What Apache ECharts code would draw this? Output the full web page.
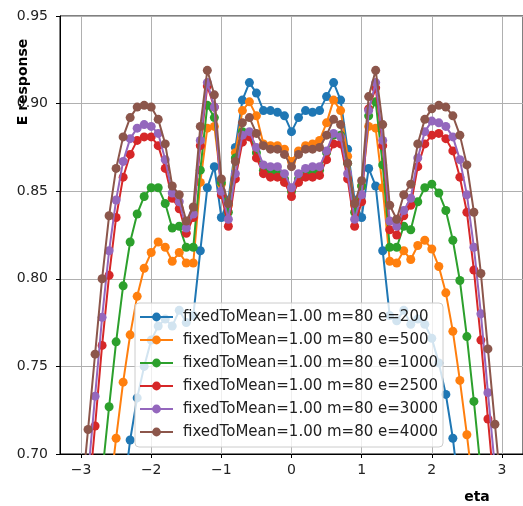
<!DOCTYPE html>
<html><head><meta charset="utf-8">
<script src="https://cdn.jsdelivr.net/npm/echarts@6/dist/echarts.min.js"></script>
<style>html,body{margin:0;padding:0;background:#fff}#c{width:523px;height:506px}</style>
</head><body><div id="c"></div>
<script>
const eta = [-3.0,-2.9,-2.8,-2.7,-2.6,-2.5,-2.4,-2.3,-2.2,-2.1,-2.0,-1.9,-1.8,-1.7,-1.6,-1.5,-1.4,-1.3,-1.2,-1.1,-1.0,-0.9,-0.8,-0.7,-0.6,-0.5,-0.4,-0.3,-0.2,-0.1,0.0,0.1,0.2,0.3,0.4,0.5,0.6,0.7,0.8,0.9,1.0,1.1,1.2,1.3,1.4,1.5,1.6,1.7,1.8,1.9,2.0,2.1,2.2,2.3,2.4,2.5,2.6,2.7,2.8,2.9,3.0];

const e200 = [null,null,null,null,null,null,0.675,0.708,0.732,0.750,0.765,0.773,0.777,0.773,0.782,0.775,0.779,0.816,0.852,0.864,0.835,0.845,0.875,0.902,0.912,0.906,0.896,0.896,0.895,0.893,0.884,0.892,0.896,0.895,0.896,0.904,0.912,0.902,0.874,0.845,0.835,0.863,0.853,0.816,0.779,0.776,0.782,0.774,0.777,0.774,0.766,0.752,0.734,0.709,0.675,null,null,null,null,null,null];
const e500 = [null,null,null,null,0.675,0.709,0.741,0.768,0.790,0.806,0.815,0.821,0.818,0.810,0.815,0.809,0.809,0.855,0.886,0.887,0.854,0.842,0.872,0.896,0.901,0.893,0.877,0.876,0.876,0.874,0.867,0.873,0.876,0.877,0.879,0.889,0.902,0.896,0.870,0.842,0.853,0.887,0.886,0.852,0.810,0.809,0.816,0.811,0.819,0.822,0.817,0.807,0.792,0.770,0.742,0.711,0.677,null,null,null,null];
const e1000 = [null,null,0.650,0.688,0.727,0.764,0.796,0.821,0.837,0.847,0.852,0.852,0.843,0.829,0.830,0.818,0.818,0.862,0.899,0.892,0.855,0.838,0.869,0.884,0.882,0.872,0.862,0.861,0.861,0.857,0.850,0.857,0.861,0.861,0.862,0.872,0.882,0.882,0.866,0.838,0.853,0.893,0.901,0.865,0.818,0.818,0.830,0.828,0.844,0.852,0.854,0.849,0.839,0.822,0.799,0.767,0.730,0.690,0.650,null,null];
const e2500 = [0.630,0.672,0.716,0.762,0.802,0.835,0.858,0.871,0.879,0.881,0.881,0.876,0.863,0.846,0.840,0.826,0.835,0.876,0.910,0.898,0.848,0.830,0.857,0.878,0.881,0.869,0.860,0.858,0.858,0.855,0.847,0.855,0.858,0.858,0.859,0.868,0.877,0.877,0.857,0.830,0.844,0.897,0.909,0.876,0.828,0.825,0.836,0.842,0.864,0.877,0.882,0.883,0.880,0.873,0.858,0.838,0.805,0.765,0.720,0.676,0.630];
const e3000 = [0.645,0.688,0.733,0.778,0.816,0.845,0.867,0.880,0.886,0.888,0.887,0.883,0.868,0.849,0.844,0.829,0.837,0.879,0.912,0.898,0.850,0.834,0.860,0.882,0.884,0.875,0.865,0.864,0.864,0.860,0.852,0.860,0.863,0.864,0.864,0.873,0.883,0.881,0.860,0.834,0.848,0.896,0.912,0.879,0.833,0.830,0.839,0.846,0.869,0.884,0.890,0.889,0.887,0.881,0.868,0.848,0.818,0.780,0.735,0.692,0.650];
const e4000 = [0.672,0.714,0.757,0.800,0.836,0.863,0.881,0.892,0.898,0.899,0.898,0.891,0.877,0.853,0.848,0.833,0.841,0.887,0.919,0.905,0.857,0.843,0.867,0.889,0.892,0.883,0.876,0.874,0.874,0.871,0.864,0.871,0.874,0.874,0.875,0.882,0.891,0.888,0.866,0.843,0.856,0.904,0.919,0.888,0.842,0.834,0.848,0.854,0.877,0.891,0.897,0.899,0.898,0.893,0.882,0.865,0.838,0.803,0.760,0.717,0.675];

const seriesNames = ['fixedToMean=1.00 m=80 e=200','fixedToMean=1.00 m=80 e=500','fixedToMean=1.00 m=80 e=1000','fixedToMean=1.00 m=80 e=2500','fixedToMean=1.00 m=80 e=3000','fixedToMean=1.00 m=80 e=4000'];
const seriesValues = [e200, e500, e1000, e2500, e3000, e4000];
const colors = ['#1f77b4','#ff7f0e','#2ca02c','#d62728','#9467bd','#8c564b'];
const xTicks = [-3,-2,-1,0,1,2,3];
const yMin = 0.70, yMax = 0.95, yStep = 0.05;
const xMin = -3.3, xMax = 3.3;
const xLabel = 'eta', yLabel = 'E response';

const FONT = '"DejaVu Sans", sans-serif';
const chart = echarts.init(document.getElementById('c'), null, {renderer:'canvas'});

const series = seriesValues.map((vals, k) => ({
  name: seriesNames[k],
  type: 'line',
  data: eta.map((x, i) => [x, vals[i]]).filter(p => p[1] !== null),
  symbol: 'circle',
  symbolSize: 9,
  showAllSymbol: true,
  lineStyle: {width: 2, color: colors[k]},
  itemStyle: {color: colors[k]},
  emphasis: {disabled: true},
  clip: true,
  z: 2 + k
}));

chart.setOption({
  animation: false,
  color: colors,
  grid: {left: 60, top: 16, width: 464, height: 438, show: true, borderColor: '#000', borderWidth: 1, backgroundColor: 'transparent'},
  xAxis: {
    type: 'value', min: xMin, max: xMax,
    axisLine: {onZero: false, lineStyle: {color: '#000', width: 1}},
    axisTick: {show: true, length: 4, lineStyle: {color: '#000'}, customValues: xTicks},
    axisLabel: {customValues: xTicks, color: '#222', fontSize: 14, fontFamily: FONT, margin: 9,
      formatter: v => (v < 0 ? '\u2212' + Math.abs(v) : String(v))},
    splitLine: {show: true, lineStyle: {color: '#b0b0b0', width: 1}}
  },
  yAxis: {
    type: 'value', min: yMin, max: yMax, interval: yStep,
    axisLine: {show: true, onZero: false, lineStyle: {color: '#000', width: 1}},
    axisTick: {show: true, length: 4, lineStyle: {color: '#000'}},
    axisLabel: {color: '#222', fontSize: 14, fontFamily: FONT, margin: 12,
      formatter: v => v.toFixed(2)},
    splitLine: {show: true, lineStyle: {color: '#b0b0b0', width: 1}}
  },
  legend: {
    data: seriesNames,
    orient: 'vertical',
    left: 135, top: 303,
    itemWidth: 33, itemHeight: 11, itemGap: 7,
    padding: [6, 5, 7, 4],
    backgroundColor: 'rgba(255,255,255,0.8)',
    borderColor: '#cccccc', borderWidth: 1, borderRadius: 4,
    textStyle: {fontSize: 15, fontFamily: FONT, color: '#222', lineHeight: 16, padding: [0,0,0,5]},
    selectedMode: false
  },
  graphic: [
    {type: 'text', x: 23, y: 82, rotation: Math.PI / 2,
     style: {text: yLabel, font: 'bold 14px ' + FONT, fill: '#000', textAlign: 'center', textVerticalAlign: 'middle'}},
    {type: 'text', x: 477, y: 497,
     style: {text: xLabel, font: 'bold 14px ' + FONT, fill: '#000', textAlign: 'center', textVerticalAlign: 'middle'}}
  ],
  series: series
});
</script>
</body></html>
